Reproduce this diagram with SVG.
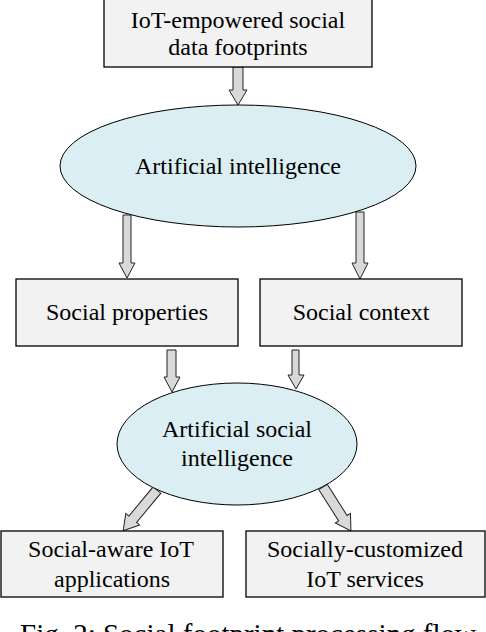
<svg xmlns="http://www.w3.org/2000/svg" width="486" height="632" viewBox="0 0 486 632">
<style>
.box{fill:#f2f2f2;stroke:#000;stroke-width:1.3}
.ell{fill:#daeef3;stroke:#000;stroke-width:1}
.arr{fill:#d9d9d9;stroke:#222;stroke-width:1}
.t{font-family:'Liberation Serif','Times New Roman',serif;font-size:24px;fill:#000;text-anchor:middle}
.cap{font-size:29px;text-anchor:start}
</style>
<rect width="486" height="632" fill="#fff"/>
<g id="connectors">
<path class="arr" d="M233 67 L243 67 L243 90 L247 90 L238 105 L229 90 L233 90 Z"/>
<path class="arr" d="M123 215 L131 215 L131 263 L135 263 L127 278 L119 263 L123 263 Z"/>
<path class="arr" d="M356 212 L364 212 L364 263 L368 263 L360 279 L352 263 L356 263 Z"/>
<path class="arr" d="M167 350 L176 350 L176 377 L180 377 L172 392 L164 377 L167 377 Z"/>
<path class="arr" d="M292 350 L299 350 L299 375 L304 375 L296 389 L288 375 L292 375 Z"/>
<g transform="translate(157 490) rotate(39.7)"><path class="arr" d="M-5 0 L5 0 L5 38 L9 38 L0 53 L-9 38 L-5 38 Z"/></g>
<g transform="translate(323 487) rotate(-32.5)"><path class="arr" d="M-5 0 L5 0 L5 37 L9 37 L0 52 L-9 37 L-5 37 Z"/></g>
</g>
<g id="n-footprints">
<rect class="box" x="104" y="-1" width="268" height="68"/>
<text class="t" x="238" y="28">IoT-empowered social</text>
<text class="t" x="238" y="55">data footprints</text>
</g>
<g id="n-ai">
<ellipse class="ell" cx="238" cy="166" rx="178" ry="61"/>
<text class="t" x="238" y="174">Artificial intelligence</text>
</g>
<g id="n-properties">
<rect class="box" x="16" y="279" width="222" height="67"/>
<text class="t" x="127" y="320">Social properties</text>
</g>
<g id="n-context">
<rect class="box" x="260" y="279" width="202" height="67"/>
<text class="t" x="361" y="320">Social context</text>
</g>
<g id="n-asi">
<ellipse class="ell" cx="237" cy="444" rx="120" ry="61"/>
<text class="t" x="237" y="437">Artificial social</text>
<text class="t" x="237" y="466">intelligence</text>
</g>
<g id="n-apps">
<rect class="box" x="1" y="531" width="222" height="66"/>
<text class="t" x="111" y="557">Social-aware IoT</text>
<text class="t" x="112" y="587">applications</text>
</g>
<g id="n-services">
<rect class="box" x="246" y="531" width="239" height="66"/>
<text class="t" x="365" y="557">Socially-customized</text>
<text class="t" x="365" y="587">IoT services</text>
</g>
<text class="t cap" x="20" y="644">Fig. 2: Social footprint processing flow</text>
</svg>
